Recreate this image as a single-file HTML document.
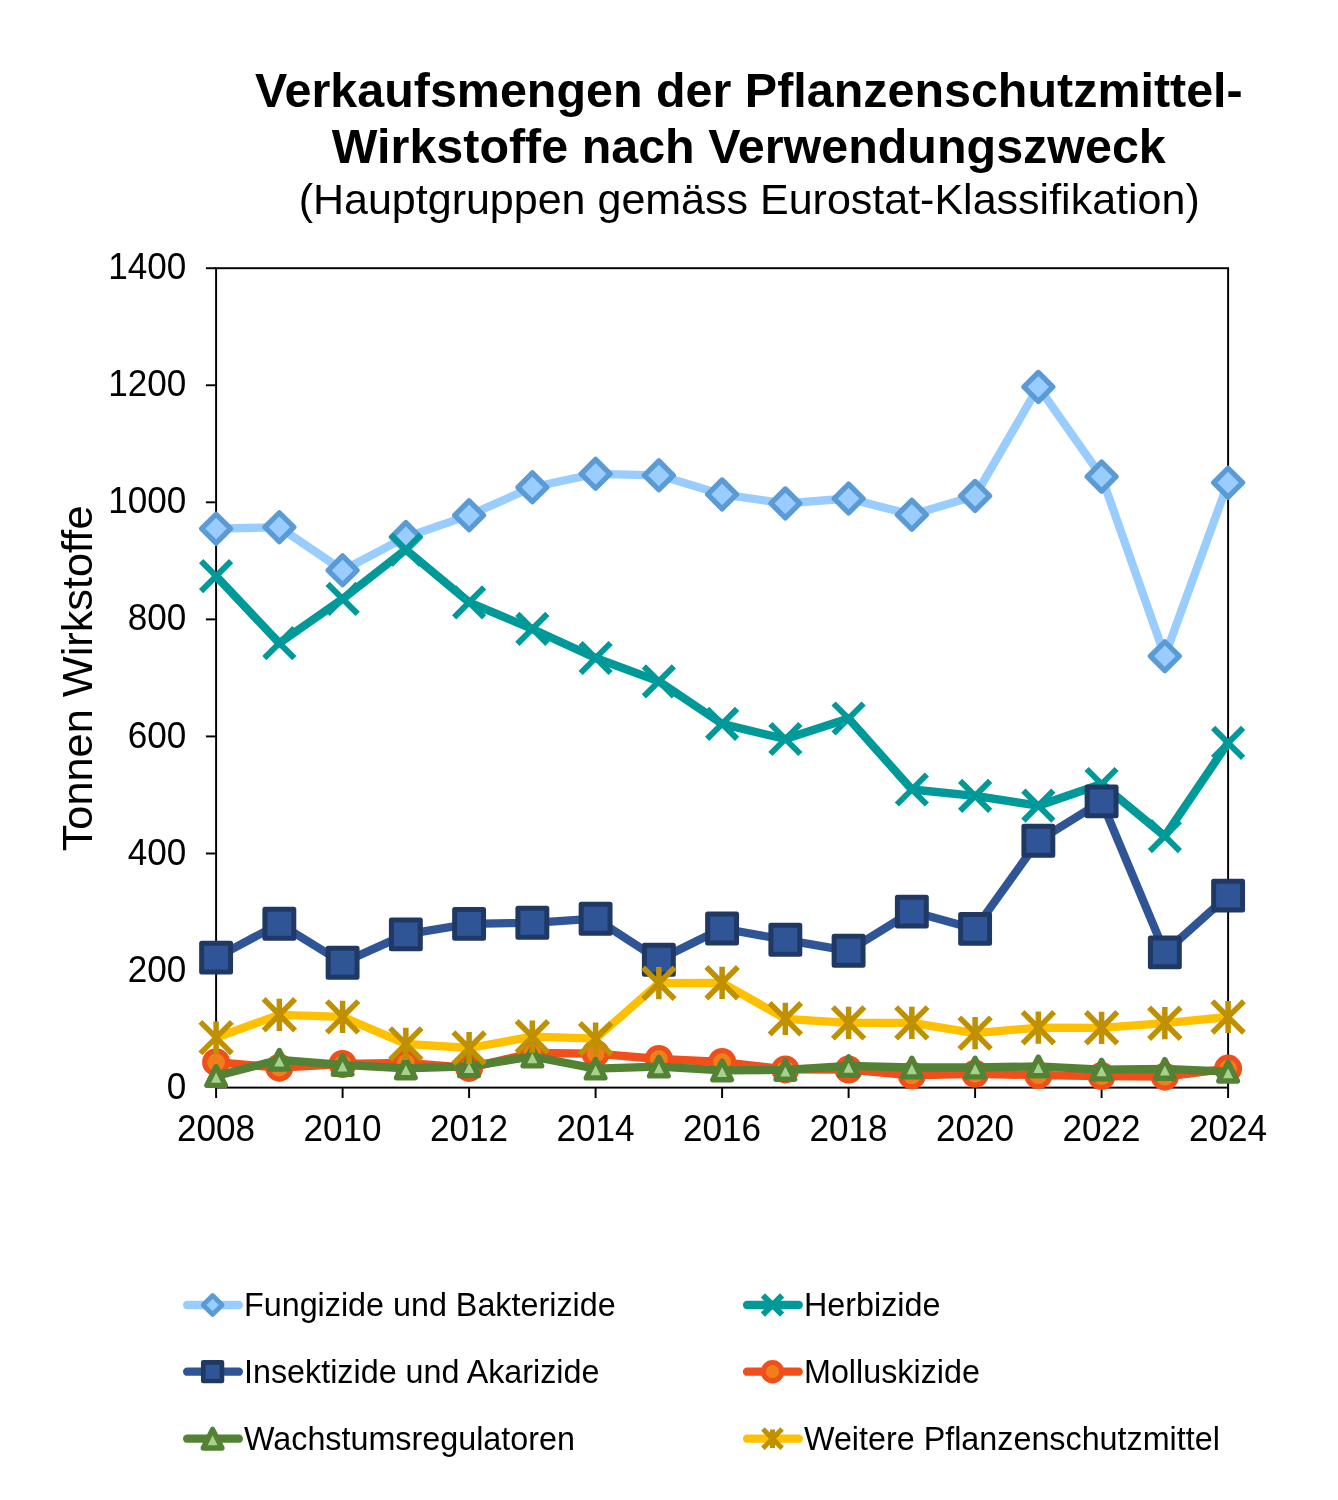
<!DOCTYPE html>
<html lang="de"><head><meta charset="utf-8"><title>Verkaufsmengen der Pflanzenschutzmittel-Wirkstoffe</title>
<style>
html,body{margin:0;padding:0;background:#fff}
svg{display:block}
text{font-family:"Liberation Sans",sans-serif;fill:#000}
</style></head><body>
<svg width="1338" height="1500" viewBox="0 0 1338 1500">
<rect width="1338" height="1500" fill="#fff"/>
<text x="748.8" y="107.3" text-anchor="middle" font-weight="bold" font-size="48.45">Verkaufsmengen der Pflanzenschutzmittel-</text>
<text x="748.8" y="163.1" text-anchor="middle" font-weight="bold" font-size="48.45">Wirkstoffe nach Verwendungszweck</text>
<text x="749.2" y="213.8" text-anchor="middle" font-size="43">(Hauptgruppen gemäss Eurostat-Klassifikation)</text>
<text transform="translate(91.9 678.4) rotate(-90)" text-anchor="middle" font-size="43.3">Tonnen Wirkstoffe</text>
<rect x="216.1" y="268.2" width="1012" height="819.4" fill="none" stroke="#000" stroke-width="1.95"/>
<text transform="translate(186.3 1098.7) scale(1 1.04)" text-anchor="end" font-size="35.1">0</text>
<line x1="205.9" y1="970.54" x2="216.1" y2="970.54" stroke="#000" stroke-width="1.95"/>
<text transform="translate(186.3 981.64) scale(1 1.04)" text-anchor="end" font-size="35.1">200</text>
<line x1="205.9" y1="853.49" x2="216.1" y2="853.49" stroke="#000" stroke-width="1.95"/>
<text transform="translate(186.3 864.59) scale(1 1.04)" text-anchor="end" font-size="35.1">400</text>
<line x1="205.9" y1="736.43" x2="216.1" y2="736.43" stroke="#000" stroke-width="1.95"/>
<text transform="translate(186.3 747.53) scale(1 1.04)" text-anchor="end" font-size="35.1">600</text>
<line x1="205.9" y1="619.37" x2="216.1" y2="619.37" stroke="#000" stroke-width="1.95"/>
<text transform="translate(186.3 630.47) scale(1 1.04)" text-anchor="end" font-size="35.1">800</text>
<line x1="205.9" y1="502.31" x2="216.1" y2="502.31" stroke="#000" stroke-width="1.95"/>
<text transform="translate(186.3 513.41) scale(1 1.04)" text-anchor="end" font-size="35.1">1000</text>
<line x1="205.9" y1="385.26" x2="216.1" y2="385.26" stroke="#000" stroke-width="1.95"/>
<text transform="translate(186.3 396.36) scale(1 1.04)" text-anchor="end" font-size="35.1">1200</text>
<line x1="205.9" y1="268.2" x2="216.1" y2="268.2" stroke="#000" stroke-width="1.95"/>
<text transform="translate(186.3 279.3) scale(1 1.04)" text-anchor="end" font-size="35.1">1400</text>
<line x1="216.1" y1="1087.6" x2="216.1" y2="1098" stroke="#000" stroke-width="1.95"/>
<text transform="translate(216.1 1140.5) scale(1 1.04)" text-anchor="middle" font-size="35.1">2008</text>
<line x1="342.6" y1="1087.6" x2="342.6" y2="1098" stroke="#000" stroke-width="1.95"/>
<text transform="translate(342.6 1140.5) scale(1 1.04)" text-anchor="middle" font-size="35.1">2010</text>
<line x1="469.1" y1="1087.6" x2="469.1" y2="1098" stroke="#000" stroke-width="1.95"/>
<text transform="translate(469.1 1140.5) scale(1 1.04)" text-anchor="middle" font-size="35.1">2012</text>
<line x1="595.6" y1="1087.6" x2="595.6" y2="1098" stroke="#000" stroke-width="1.95"/>
<text transform="translate(595.6 1140.5) scale(1 1.04)" text-anchor="middle" font-size="35.1">2014</text>
<line x1="722.1" y1="1087.6" x2="722.1" y2="1098" stroke="#000" stroke-width="1.95"/>
<text transform="translate(722.1 1140.5) scale(1 1.04)" text-anchor="middle" font-size="35.1">2016</text>
<line x1="848.6" y1="1087.6" x2="848.6" y2="1098" stroke="#000" stroke-width="1.95"/>
<text transform="translate(848.6 1140.5) scale(1 1.04)" text-anchor="middle" font-size="35.1">2018</text>
<line x1="975.1" y1="1087.6" x2="975.1" y2="1098" stroke="#000" stroke-width="1.95"/>
<text transform="translate(975.1 1140.5) scale(1 1.04)" text-anchor="middle" font-size="35.1">2020</text>
<line x1="1101.6" y1="1087.6" x2="1101.6" y2="1098" stroke="#000" stroke-width="1.95"/>
<text transform="translate(1101.6 1140.5) scale(1 1.04)" text-anchor="middle" font-size="35.1">2022</text>
<line x1="1228.1" y1="1087.6" x2="1228.1" y2="1098" stroke="#000" stroke-width="1.95"/>
<text transform="translate(1228.1 1140.5) scale(1 1.04)" text-anchor="middle" font-size="35.1">2024</text>
<g><polyline points="216.1,528.7 279.35,527.2 342.6,570.3 405.85,537.1 469.1,515.3 532.35,487.3 595.6,473.8 658.85,475.3 722.1,494.4 785.35,503.4 848.6,498.5 911.85,514.8 975.1,495.9 1038.35,386.9 1101.6,476.6 1164.85,656.2 1228.1,482.7" fill="none" stroke="#99CCFF" stroke-width="8.3" stroke-linejoin="round" stroke-linecap="butt"/>
<path d="M216.1 514.25L230.55 528.7L216.1 543.15L201.65 528.7Z" fill="#99CCFF" stroke="#5B9BD5" stroke-width="5.3" stroke-linejoin="round"/>
<path d="M279.35 512.75L293.8 527.2L279.35 541.65L264.9 527.2Z" fill="#99CCFF" stroke="#5B9BD5" stroke-width="5.3" stroke-linejoin="round"/>
<path d="M342.6 555.85L357.05 570.3L342.6 584.75L328.15 570.3Z" fill="#99CCFF" stroke="#5B9BD5" stroke-width="5.3" stroke-linejoin="round"/>
<path d="M405.85 522.65L420.3 537.1L405.85 551.55L391.4 537.1Z" fill="#99CCFF" stroke="#5B9BD5" stroke-width="5.3" stroke-linejoin="round"/>
<path d="M469.1 500.85L483.55 515.3L469.1 529.75L454.65 515.3Z" fill="#99CCFF" stroke="#5B9BD5" stroke-width="5.3" stroke-linejoin="round"/>
<path d="M532.35 472.85L546.8 487.3L532.35 501.75L517.9 487.3Z" fill="#99CCFF" stroke="#5B9BD5" stroke-width="5.3" stroke-linejoin="round"/>
<path d="M595.6 459.35L610.05 473.8L595.6 488.25L581.15 473.8Z" fill="#99CCFF" stroke="#5B9BD5" stroke-width="5.3" stroke-linejoin="round"/>
<path d="M658.85 460.85L673.3 475.3L658.85 489.75L644.4 475.3Z" fill="#99CCFF" stroke="#5B9BD5" stroke-width="5.3" stroke-linejoin="round"/>
<path d="M722.1 479.95L736.55 494.4L722.1 508.85L707.65 494.4Z" fill="#99CCFF" stroke="#5B9BD5" stroke-width="5.3" stroke-linejoin="round"/>
<path d="M785.35 488.95L799.8 503.4L785.35 517.85L770.9 503.4Z" fill="#99CCFF" stroke="#5B9BD5" stroke-width="5.3" stroke-linejoin="round"/>
<path d="M848.6 484.05L863.05 498.5L848.6 512.95L834.15 498.5Z" fill="#99CCFF" stroke="#5B9BD5" stroke-width="5.3" stroke-linejoin="round"/>
<path d="M911.85 500.35L926.3 514.8L911.85 529.25L897.4 514.8Z" fill="#99CCFF" stroke="#5B9BD5" stroke-width="5.3" stroke-linejoin="round"/>
<path d="M975.1 481.45L989.55 495.9L975.1 510.35L960.65 495.9Z" fill="#99CCFF" stroke="#5B9BD5" stroke-width="5.3" stroke-linejoin="round"/>
<path d="M1038.35 372.45L1052.8 386.9L1038.35 401.35L1023.9 386.9Z" fill="#99CCFF" stroke="#5B9BD5" stroke-width="5.3" stroke-linejoin="round"/>
<path d="M1101.6 462.15L1116.05 476.6L1101.6 491.05L1087.15 476.6Z" fill="#99CCFF" stroke="#5B9BD5" stroke-width="5.3" stroke-linejoin="round"/>
<path d="M1164.85 641.75L1179.3 656.2L1164.85 670.65L1150.4 656.2Z" fill="#99CCFF" stroke="#5B9BD5" stroke-width="5.3" stroke-linejoin="round"/>
<path d="M1228.1 468.25L1242.55 482.7L1228.1 497.15L1213.65 482.7Z" fill="#99CCFF" stroke="#5B9BD5" stroke-width="5.3" stroke-linejoin="round"/></g>
<g><polyline points="216.1,576.2 279.35,643.1 342.6,598.9 405.85,549.6 469.1,602.3 532.35,628.9 595.6,658 658.85,681.3 722.1,723.9 785.35,739 848.6,718.5 911.85,789.5 975.1,795.8 1038.35,805.7 1101.6,784 1164.85,836.2 1228.1,742.8" fill="none" stroke="#009999" stroke-width="8.3" stroke-linejoin="round" stroke-linecap="butt"/>
<path d="M201.1 561.2L231.1 591.2M201.1 591.2L231.1 561.2" fill="none" stroke="#009999" stroke-width="6.0"/>
<path d="M264.35 628.1L294.35 658.1M264.35 658.1L294.35 628.1" fill="none" stroke="#009999" stroke-width="6.0"/>
<path d="M327.6 583.9L357.6 613.9M327.6 613.9L357.6 583.9" fill="none" stroke="#009999" stroke-width="6.0"/>
<path d="M390.85 534.6L420.85 564.6M390.85 564.6L420.85 534.6" fill="none" stroke="#009999" stroke-width="6.0"/>
<path d="M454.1 587.3L484.1 617.3M454.1 617.3L484.1 587.3" fill="none" stroke="#009999" stroke-width="6.0"/>
<path d="M517.35 613.9L547.35 643.9M517.35 643.9L547.35 613.9" fill="none" stroke="#009999" stroke-width="6.0"/>
<path d="M580.6 643L610.6 673M580.6 673L610.6 643" fill="none" stroke="#009999" stroke-width="6.0"/>
<path d="M643.85 666.3L673.85 696.3M643.85 696.3L673.85 666.3" fill="none" stroke="#009999" stroke-width="6.0"/>
<path d="M707.1 708.9L737.1 738.9M707.1 738.9L737.1 708.9" fill="none" stroke="#009999" stroke-width="6.0"/>
<path d="M770.35 724L800.35 754M770.35 754L800.35 724" fill="none" stroke="#009999" stroke-width="6.0"/>
<path d="M833.6 703.5L863.6 733.5M833.6 733.5L863.6 703.5" fill="none" stroke="#009999" stroke-width="6.0"/>
<path d="M896.85 774.5L926.85 804.5M896.85 804.5L926.85 774.5" fill="none" stroke="#009999" stroke-width="6.0"/>
<path d="M960.1 780.8L990.1 810.8M960.1 810.8L990.1 780.8" fill="none" stroke="#009999" stroke-width="6.0"/>
<path d="M1023.35 790.7L1053.35 820.7M1023.35 820.7L1053.35 790.7" fill="none" stroke="#009999" stroke-width="6.0"/>
<path d="M1086.6 769L1116.6 799M1086.6 799L1116.6 769" fill="none" stroke="#009999" stroke-width="6.0"/>
<path d="M1149.85 821.2L1179.85 851.2M1149.85 851.2L1179.85 821.2" fill="none" stroke="#009999" stroke-width="6.0"/>
<path d="M1213.1 727.8L1243.1 757.8M1213.1 757.8L1243.1 727.8" fill="none" stroke="#009999" stroke-width="6.0"/></g>
<g><polyline points="216.1,957.6 279.35,923.8 342.6,962.8 405.85,934.4 469.1,923.9 532.35,922.8 595.6,918.7 658.85,959.8 722.1,928.5 785.35,939.8 848.6,950.8 911.85,911.6 975.1,928.9 1038.35,840.7 1101.6,801.4 1164.85,952.4 1228.1,895.6" fill="none" stroke="#2F5597" stroke-width="8.3" stroke-linejoin="round" stroke-linecap="butt"/>
<rect x="201.65" y="943.15" width="28.9" height="28.9" fill="#2F5597" stroke="#203864" stroke-width="5.0" stroke-linejoin="round"/>
<rect x="264.9" y="909.35" width="28.9" height="28.9" fill="#2F5597" stroke="#203864" stroke-width="5.0" stroke-linejoin="round"/>
<rect x="328.15" y="948.35" width="28.9" height="28.9" fill="#2F5597" stroke="#203864" stroke-width="5.0" stroke-linejoin="round"/>
<rect x="391.4" y="919.95" width="28.9" height="28.9" fill="#2F5597" stroke="#203864" stroke-width="5.0" stroke-linejoin="round"/>
<rect x="454.65" y="909.45" width="28.9" height="28.9" fill="#2F5597" stroke="#203864" stroke-width="5.0" stroke-linejoin="round"/>
<rect x="517.9" y="908.35" width="28.9" height="28.9" fill="#2F5597" stroke="#203864" stroke-width="5.0" stroke-linejoin="round"/>
<rect x="581.15" y="904.25" width="28.9" height="28.9" fill="#2F5597" stroke="#203864" stroke-width="5.0" stroke-linejoin="round"/>
<rect x="644.4" y="945.35" width="28.9" height="28.9" fill="#2F5597" stroke="#203864" stroke-width="5.0" stroke-linejoin="round"/>
<rect x="707.65" y="914.05" width="28.9" height="28.9" fill="#2F5597" stroke="#203864" stroke-width="5.0" stroke-linejoin="round"/>
<rect x="770.9" y="925.35" width="28.9" height="28.9" fill="#2F5597" stroke="#203864" stroke-width="5.0" stroke-linejoin="round"/>
<rect x="834.15" y="936.35" width="28.9" height="28.9" fill="#2F5597" stroke="#203864" stroke-width="5.0" stroke-linejoin="round"/>
<rect x="897.4" y="897.15" width="28.9" height="28.9" fill="#2F5597" stroke="#203864" stroke-width="5.0" stroke-linejoin="round"/>
<rect x="960.65" y="914.45" width="28.9" height="28.9" fill="#2F5597" stroke="#203864" stroke-width="5.0" stroke-linejoin="round"/>
<rect x="1023.9" y="826.25" width="28.9" height="28.9" fill="#2F5597" stroke="#203864" stroke-width="5.0" stroke-linejoin="round"/>
<rect x="1087.15" y="786.95" width="28.9" height="28.9" fill="#2F5597" stroke="#203864" stroke-width="5.0" stroke-linejoin="round"/>
<rect x="1150.4" y="937.95" width="28.9" height="28.9" fill="#2F5597" stroke="#203864" stroke-width="5.0" stroke-linejoin="round"/>
<rect x="1213.65" y="881.15" width="28.9" height="28.9" fill="#2F5597" stroke="#203864" stroke-width="5.0" stroke-linejoin="round"/></g>
<g><polyline points="216.1,1062.2 279.35,1067.7 342.6,1064 405.85,1062.8 469.1,1067.9 532.35,1053 595.6,1053.7 658.85,1059 722.1,1062 785.35,1069.4 848.6,1069.6 911.85,1075.4 975.1,1073.8 1038.35,1075.2 1101.6,1076.1 1164.85,1076.7 1228.1,1068.6" fill="none" stroke="#F04E1A" stroke-width="8.3" stroke-linejoin="round" stroke-linecap="butt"/>
<circle cx="216.1" cy="1062.2" r="11.45" fill="#EE7F1A" stroke="#F04E1A" stroke-width="5.1"/>
<circle cx="279.35" cy="1067.7" r="11.45" fill="#EE7F1A" stroke="#F04E1A" stroke-width="5.1"/>
<circle cx="342.6" cy="1064" r="11.45" fill="#EE7F1A" stroke="#F04E1A" stroke-width="5.1"/>
<circle cx="405.85" cy="1062.8" r="11.45" fill="#EE7F1A" stroke="#F04E1A" stroke-width="5.1"/>
<circle cx="469.1" cy="1067.9" r="11.45" fill="#EE7F1A" stroke="#F04E1A" stroke-width="5.1"/>
<circle cx="532.35" cy="1053" r="11.45" fill="#EE7F1A" stroke="#F04E1A" stroke-width="5.1"/>
<circle cx="595.6" cy="1053.7" r="11.45" fill="#EE7F1A" stroke="#F04E1A" stroke-width="5.1"/>
<circle cx="658.85" cy="1059" r="11.45" fill="#EE7F1A" stroke="#F04E1A" stroke-width="5.1"/>
<circle cx="722.1" cy="1062" r="11.45" fill="#EE7F1A" stroke="#F04E1A" stroke-width="5.1"/>
<circle cx="785.35" cy="1069.4" r="11.45" fill="#EE7F1A" stroke="#F04E1A" stroke-width="5.1"/>
<circle cx="848.6" cy="1069.6" r="11.45" fill="#EE7F1A" stroke="#F04E1A" stroke-width="5.1"/>
<circle cx="911.85" cy="1075.4" r="11.45" fill="#EE7F1A" stroke="#F04E1A" stroke-width="5.1"/>
<circle cx="975.1" cy="1073.8" r="11.45" fill="#EE7F1A" stroke="#F04E1A" stroke-width="5.1"/>
<circle cx="1038.35" cy="1075.2" r="11.45" fill="#EE7F1A" stroke="#F04E1A" stroke-width="5.1"/>
<circle cx="1101.6" cy="1076.1" r="11.45" fill="#EE7F1A" stroke="#F04E1A" stroke-width="5.1"/>
<circle cx="1164.85" cy="1076.7" r="11.45" fill="#EE7F1A" stroke="#F04E1A" stroke-width="5.1"/>
<circle cx="1228.1" cy="1068.6" r="11.45" fill="#EE7F1A" stroke="#F04E1A" stroke-width="5.1"/></g>
<g><polyline points="216.1,1076 279.35,1059.8 342.6,1064.9 405.85,1068.4 469.1,1066.3 532.35,1056.5 595.6,1068.6 658.85,1066.6 722.1,1070.4 785.35,1069.9 848.6,1066 911.85,1067.5 975.1,1067.5 1038.35,1066.4 1101.6,1069.6 1164.85,1068.9 1228.1,1071.7" fill="none" stroke="#548235" stroke-width="8.3" stroke-linejoin="round" stroke-linecap="butt"/>
<path d="M216.1 1066.67L225.43 1085.33L206.77 1085.33Z" fill="#A9D18E" stroke="#548235" stroke-width="5.35" stroke-linejoin="round"/>
<path d="M279.35 1050.47L288.68 1069.13L270.02 1069.13Z" fill="#A9D18E" stroke="#548235" stroke-width="5.35" stroke-linejoin="round"/>
<path d="M342.6 1055.57L351.93 1074.23L333.27 1074.23Z" fill="#A9D18E" stroke="#548235" stroke-width="5.35" stroke-linejoin="round"/>
<path d="M405.85 1059.07L415.18 1077.73L396.52 1077.73Z" fill="#A9D18E" stroke="#548235" stroke-width="5.35" stroke-linejoin="round"/>
<path d="M469.1 1056.97L478.43 1075.63L459.77 1075.63Z" fill="#A9D18E" stroke="#548235" stroke-width="5.35" stroke-linejoin="round"/>
<path d="M532.35 1047.17L541.68 1065.83L523.02 1065.83Z" fill="#A9D18E" stroke="#548235" stroke-width="5.35" stroke-linejoin="round"/>
<path d="M595.6 1059.27L604.93 1077.93L586.27 1077.93Z" fill="#A9D18E" stroke="#548235" stroke-width="5.35" stroke-linejoin="round"/>
<path d="M658.85 1057.27L668.18 1075.93L649.52 1075.93Z" fill="#A9D18E" stroke="#548235" stroke-width="5.35" stroke-linejoin="round"/>
<path d="M722.1 1061.07L731.43 1079.73L712.77 1079.73Z" fill="#A9D18E" stroke="#548235" stroke-width="5.35" stroke-linejoin="round"/>
<path d="M785.35 1060.57L794.68 1079.23L776.02 1079.23Z" fill="#A9D18E" stroke="#548235" stroke-width="5.35" stroke-linejoin="round"/>
<path d="M848.6 1056.67L857.93 1075.33L839.27 1075.33Z" fill="#A9D18E" stroke="#548235" stroke-width="5.35" stroke-linejoin="round"/>
<path d="M911.85 1058.17L921.18 1076.83L902.52 1076.83Z" fill="#A9D18E" stroke="#548235" stroke-width="5.35" stroke-linejoin="round"/>
<path d="M975.1 1058.17L984.43 1076.83L965.77 1076.83Z" fill="#A9D18E" stroke="#548235" stroke-width="5.35" stroke-linejoin="round"/>
<path d="M1038.35 1057.07L1047.68 1075.73L1029.02 1075.73Z" fill="#A9D18E" stroke="#548235" stroke-width="5.35" stroke-linejoin="round"/>
<path d="M1101.6 1060.27L1110.93 1078.93L1092.27 1078.93Z" fill="#A9D18E" stroke="#548235" stroke-width="5.35" stroke-linejoin="round"/>
<path d="M1164.85 1059.57L1174.18 1078.23L1155.52 1078.23Z" fill="#A9D18E" stroke="#548235" stroke-width="5.35" stroke-linejoin="round"/>
<path d="M1228.1 1062.37L1237.43 1081.03L1218.77 1081.03Z" fill="#A9D18E" stroke="#548235" stroke-width="5.35" stroke-linejoin="round"/></g>
<g><polyline points="216.1,1037.6 279.35,1014.8 342.6,1016.9 405.85,1043.9 469.1,1048 532.35,1036.7 595.6,1038.7 658.85,983.2 722.1,982.8 785.35,1018.8 848.6,1022.9 911.85,1022.9 975.1,1033.1 1038.35,1027.7 1101.6,1027.8 1164.85,1023.2 1228.1,1017" fill="none" stroke="#FFC000" stroke-width="8.3" stroke-linejoin="round" stroke-linecap="butt"/>
<path d="M200.35 1021.85L231.85 1053.35M200.35 1053.35L231.85 1021.85M216.1 1021.5L216.1 1053.7" fill="none" stroke="#BF9000" stroke-width="5.5"/>
<path d="M263.6 999.05L295.1 1030.55M263.6 1030.55L295.1 999.05M279.35 998.7L279.35 1030.9" fill="none" stroke="#BF9000" stroke-width="5.5"/>
<path d="M326.85 1001.15L358.35 1032.65M326.85 1032.65L358.35 1001.15M342.6 1000.8L342.6 1033" fill="none" stroke="#BF9000" stroke-width="5.5"/>
<path d="M390.1 1028.15L421.6 1059.65M390.1 1059.65L421.6 1028.15M405.85 1027.8L405.85 1060" fill="none" stroke="#BF9000" stroke-width="5.5"/>
<path d="M453.35 1032.25L484.85 1063.75M453.35 1063.75L484.85 1032.25M469.1 1031.9L469.1 1064.1" fill="none" stroke="#BF9000" stroke-width="5.5"/>
<path d="M516.6 1020.95L548.1 1052.45M516.6 1052.45L548.1 1020.95M532.35 1020.6L532.35 1052.8" fill="none" stroke="#BF9000" stroke-width="5.5"/>
<path d="M579.85 1022.95L611.35 1054.45M579.85 1054.45L611.35 1022.95M595.6 1022.6L595.6 1054.8" fill="none" stroke="#BF9000" stroke-width="5.5"/>
<path d="M643.1 967.45L674.6 998.95M643.1 998.95L674.6 967.45M658.85 967.1L658.85 999.3" fill="none" stroke="#BF9000" stroke-width="5.5"/>
<path d="M706.35 967.05L737.85 998.55M706.35 998.55L737.85 967.05M722.1 966.7L722.1 998.9" fill="none" stroke="#BF9000" stroke-width="5.5"/>
<path d="M769.6 1003.05L801.1 1034.55M769.6 1034.55L801.1 1003.05M785.35 1002.7L785.35 1034.9" fill="none" stroke="#BF9000" stroke-width="5.5"/>
<path d="M832.85 1007.15L864.35 1038.65M832.85 1038.65L864.35 1007.15M848.6 1006.8L848.6 1039" fill="none" stroke="#BF9000" stroke-width="5.5"/>
<path d="M896.1 1007.15L927.6 1038.65M896.1 1038.65L927.6 1007.15M911.85 1006.8L911.85 1039" fill="none" stroke="#BF9000" stroke-width="5.5"/>
<path d="M959.35 1017.35L990.85 1048.85M959.35 1048.85L990.85 1017.35M975.1 1017L975.1 1049.2" fill="none" stroke="#BF9000" stroke-width="5.5"/>
<path d="M1022.6 1011.95L1054.1 1043.45M1022.6 1043.45L1054.1 1011.95M1038.35 1011.6L1038.35 1043.8" fill="none" stroke="#BF9000" stroke-width="5.5"/>
<path d="M1085.85 1012.05L1117.35 1043.55M1085.85 1043.55L1117.35 1012.05M1101.6 1011.7L1101.6 1043.9" fill="none" stroke="#BF9000" stroke-width="5.5"/>
<path d="M1149.1 1007.45L1180.6 1038.95M1149.1 1038.95L1180.6 1007.45M1164.85 1007.1L1164.85 1039.3" fill="none" stroke="#BF9000" stroke-width="5.5"/>
<path d="M1212.35 1001.25L1243.85 1032.75M1212.35 1032.75L1243.85 1001.25M1228.1 1000.9L1228.1 1033.1" fill="none" stroke="#BF9000" stroke-width="5.5"/></g>
<line x1="187.15" y1="1305" x2="238.85" y2="1305" stroke="#99CCFF" stroke-width="8.3" stroke-linecap="round"/><path d="M212.6 1295.5L222.1 1305L212.6 1314.5L203.1 1305Z" fill="#99CCFF" stroke="#5B9BD5" stroke-width="4.6" stroke-linejoin="round"/><text x="244.0" y="1315.9" font-size="32.3">Fungizide und Bakterizide</text>
<line x1="187.15" y1="1371.7" x2="238.85" y2="1371.7" stroke="#2F5597" stroke-width="8.3" stroke-linecap="round"/><rect x="203.25" y="1362.35" width="18.7" height="18.7" fill="#2F5597" stroke="#203864" stroke-width="4.6" stroke-linejoin="round"/><text x="244.0" y="1382.6" font-size="32.3">Insektizide und Akarizide</text>
<line x1="187.15" y1="1438.7" x2="238.85" y2="1438.7" stroke="#548235" stroke-width="8.3" stroke-linecap="round"/><path d="M212.6 1429.37L221.93 1448.03L203.27 1448.03Z" fill="#A9D18E" stroke="#548235" stroke-width="5.35" stroke-linejoin="round"/><text x="244.0" y="1449.6" font-size="32.3">Wachstumsregulatoren</text>
<line x1="747.05" y1="1305" x2="798.75" y2="1305" stroke="#009999" stroke-width="8.3" stroke-linecap="round"/><path d="M762.9 1295.4L782.1 1314.6M762.9 1314.6L782.1 1295.4" fill="none" stroke="#009999" stroke-width="5.9"/><text x="804.0" y="1315.9" font-size="32.3">Herbizide</text>
<line x1="747.05" y1="1371.7" x2="798.75" y2="1371.7" stroke="#F04E1A" stroke-width="8.3" stroke-linecap="round"/><circle cx="772.5" cy="1371.7" r="9.15" fill="#EE7F1A" stroke="#F04E1A" stroke-width="5.1"/><text x="804.0" y="1382.6" font-size="32.3">Molluskizide</text>
<line x1="747.05" y1="1438.7" x2="798.75" y2="1438.7" stroke="#FFC000" stroke-width="8.3" stroke-linecap="round"/><path d="M762.9 1429.1L782.1 1448.3M762.9 1448.3L782.1 1429.1M772.5 1429.5L772.5 1447.9" fill="none" stroke="#BF9000" stroke-width="5.0"/><text x="804.0" y="1449.6" font-size="32.3">Weitere Pflanzenschutzmittel</text>
</svg></body></html>
